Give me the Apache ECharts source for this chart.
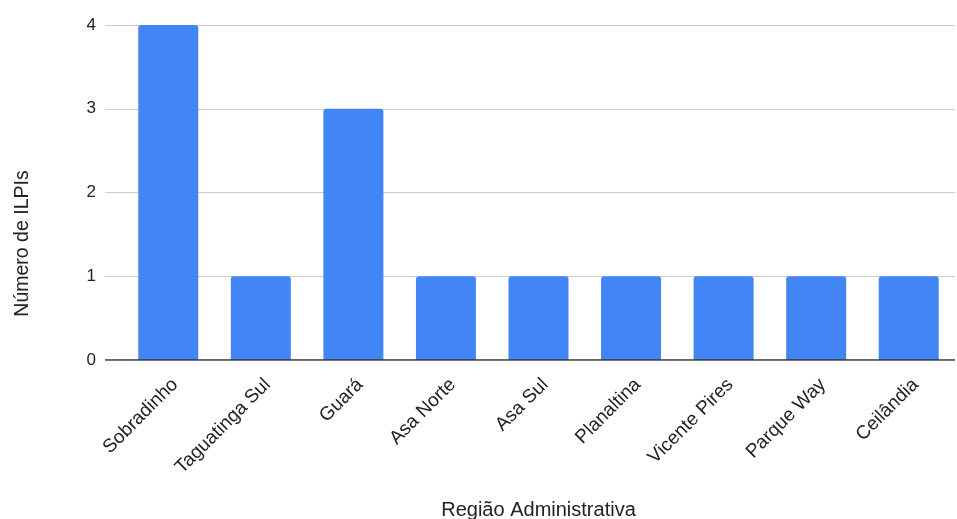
<!DOCTYPE html>
<html>
<head>
<meta charset="utf-8">
<script src="https://cdn.jsdelivr.net/npm/echarts@6/dist/echarts.min.js"></script>
<style>
  html, body { margin: 0; padding: 0; background: #fff; }
  #chart { width: 957px; height: 519px; }
</style>
</head>
<body>
<div id="chart"></div>
<script>
// Number of ILPIs per administrative region
const regions = ['Sobradinho', 'Taguatinga Sul', 'Guará', 'Asa Norte', 'Asa Sul', 'Planaltina', 'Vicente Pires', 'Parque Way', 'Ceilândia'];
const counts = [4, 1, 3, 1, 1, 1, 1, 1, 1];
const yTicks = [0, 1, 2, 3, 4];

const FONT = '"Liberation Sans", Arial, sans-serif';
const yMin = yTicks[0], yMax = yTicks[yTicks.length - 1];

const chart = echarts.init(document.getElementById('chart'), null, { renderer: 'canvas' });
chart.setOption({
  animation: false,
  backgroundColor: '#ffffff',
  grid: [
    // grid 0: gridlines, value labels and baseline (extends a bit left of the bars)
    { left: 105, right: 2, top: 25, bottom: 159, outerBoundsMode: 'none' },
    // grid 1: the bars
    { left: 122, right: 2, top: 25, bottom: 159, outerBoundsMode: 'none' }
  ],
  xAxis: [
    {
      gridIndex: 0, type: 'value', min: 0, max: 1,
      axisLine: { show: false }, axisTick: { show: false },
      axisLabel: { show: false }, splitLine: { show: false }
    },
    {
      gridIndex: 1, type: 'category', data: regions,
      name: 'Região Administrativa', nameLocation: 'middle', nameGap: 140,
      nameTextStyle: { color: '#222', fontSize: 20, fontFamily: FONT },
      axisLine: { show: false }, axisTick: { show: false },
      axisLabel: {
        interval: 0, rotate: 45, margin: 15,
        align: 'right', verticalAlign: 'top',
        color: '#222', fontSize: 19, fontFamily: FONT
      }
    }
  ],
  yAxis: [
    {
      gridIndex: 0, type: 'value', min: yMin, max: yMax, interval: 1,
      name: 'Número de ILPIs', nameLocation: 'middle', nameGap: 72,
      nameTextStyle: { color: '#222', fontSize: 19.5, fontFamily: FONT, padding: [0, 102, 0, 0] },
      axisLine: { show: false }, axisTick: { show: false },
      axisLabel: { color: '#222', fontSize: 17, fontFamily: FONT, margin: 9 },
      splitLine: { show: true, lineStyle: { color: '#cccccc', width: 1 } }
    },
    {
      gridIndex: 1, type: 'value', min: yMin, max: yMax, interval: 1,
      axisLine: { show: false }, axisTick: { show: false },
      axisLabel: { show: false }, splitLine: { show: false }
    }
  ],
  series: [
    {
      type: 'bar', xAxisIndex: 1, yAxisIndex: 1,
      data: counts, barWidth: 60,
      itemStyle: { color: '#4285f4', borderRadius: [3, 3, 0, 0] },
      z: 3
    },
    {
      // baseline along zero
      type: 'line', xAxisIndex: 0, yAxisIndex: 0,
      data: [[0, 0], [1, 0]], symbol: 'none', silent: true,
      lineStyle: { color: '#333333', width: 1.5 }, z: 4
    }
  ]
});
</script>
</body>
</html>
